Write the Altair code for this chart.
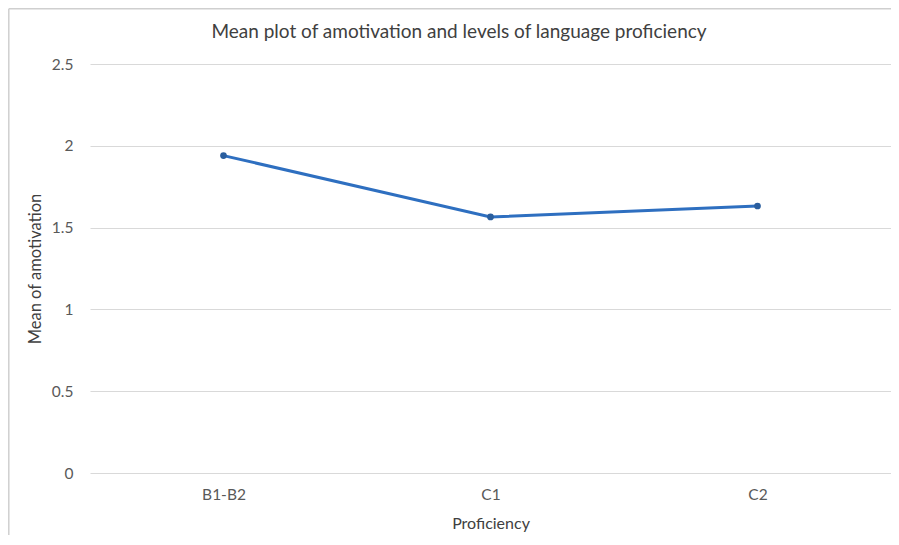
import altair as alt
import pandas as pd

categories = ["B1-B2", "C1", "C2"]
means = [1.94, 1.565, 1.632]
title_text = ["Mean plot of amotivation and levels of language proficiency"]

df = pd.DataFrame({"Proficiency": categories, "Mean": means})
tdf = pd.DataFrame({"t": title_text})

W = 801
H = 409
FONT = "Lato"

base = alt.Chart(df).encode(
    x=alt.X("Proficiency:N", sort=categories,
            scale=alt.Scale(type="point", padding=0.5),
            axis=alt.Axis(title="Proficiency", labelAngle=0, domain=False, ticks=False,
                          grid=False, labelPadding=14, titlePadding=13,
                          labelFontSize=15.5, titleFontSize=16, labelColor="#595959",
                          titleColor="#404040", labelFont=FONT, titleFont=FONT,
                          titleFontWeight="normal")),
    y=alt.Y("Mean:Q", scale=alt.Scale(domain=[0, 2.5], nice=False),
            axis=alt.Axis(title="Mean of amotivation", values=[0, 0.5, 1, 1.5, 2, 2.5],
                          format="~g",
                          domain=False, ticks=False, grid=True, gridColor="#d9d9d9",
                          gridWidth=1.2, labelPadding=17, titlePadding=8,
                          labelFontSize=15.5, titleFontSize=16.5, labelColor="#595959",
                          titleColor="#404040", labelFont=FONT, titleFont=FONT,
                          titleFontWeight="normal")),
)

line = base.mark_line(color="#2E6FC0", strokeWidth=3)
pts = base.mark_circle(color="#2A5E9E", size=45, opacity=1)

frame_left = alt.Chart(tdf).mark_rule(color="#cfcfcf", strokeWidth=1.5).encode(
    x=alt.value(-81.2), y=alt.value(-55.2), y2=alt.value(H + 62))
frame_top = alt.Chart(tdf).mark_rule(color="#cfcfcf", strokeWidth=1.5).encode(
    x=alt.value(-81.2), x2=alt.value(W), y=alt.value(-55.2))

title = alt.Chart(tdf).mark_text(font=FONT, fontSize=19, color="#404040",
                                 align="center", baseline="middle").encode(
    text="t:N", x=alt.value(369), y=alt.value(-32))

chart = alt.layer(frame_left, frame_top, title, line, pts).properties(
    width=W, height=H,
    autosize=alt.AutoSizeParams(type="none"),
    padding={"left": 82, "top": 56, "right": 0, "bottom": 64},
).configure_view(strokeWidth=0)

chart.save("out.html", embed_options={"renderer": "svg", "actions": False})
